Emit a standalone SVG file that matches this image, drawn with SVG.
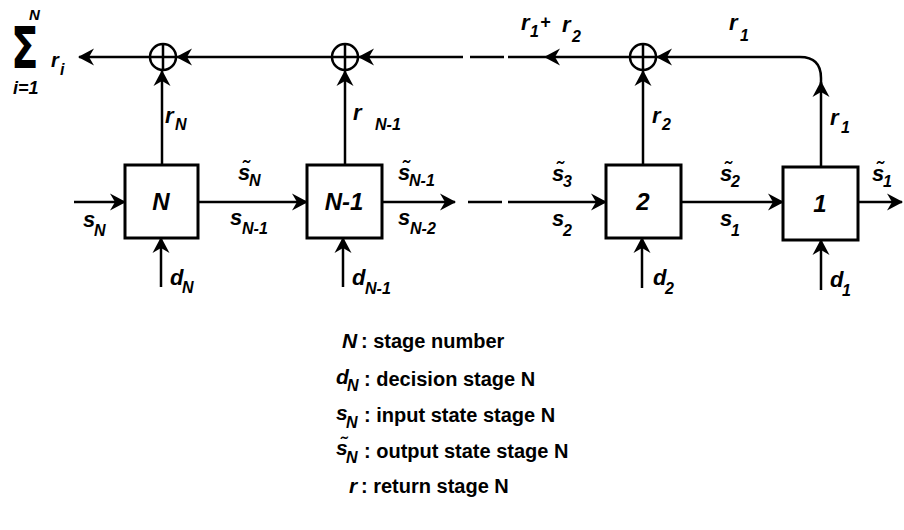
<svg xmlns="http://www.w3.org/2000/svg" width="904" height="530" viewBox="0 0 904 530">
<style>
.ln{stroke:#000;stroke-width:2.5;fill:none}
.ar{marker-end:url(#ah)}
.box{fill:#fff;stroke:#000;stroke-width:3}
.sum{fill:#fff;stroke:#000;stroke-width:2.5}
text{font-family:"Liberation Sans",Arial,sans-serif;fill:#000}
.lb{font-size:22px;font-style:italic;font-weight:bold}
.bx{font-size:24px;font-style:italic;font-weight:bold;text-anchor:middle}
.sb{font-size:16px}
.lg{font-size:20px;font-weight:bold}
.lgi{font-size:21px;font-weight:bold;font-style:italic}
.sig{font-family:"DejaVu Sans",sans-serif;font-size:56px;font-weight:bold}
</style>
<defs>
<marker id="ah" viewBox="0 0 16 18" refX="15" refY="9" markerWidth="16" markerHeight="18" markerUnits="userSpaceOnUse" orient="auto">
<path d="M0,0.5 L16,9 L0,17.5 L5,9 z" fill="#000"/>
</marker>
</defs>

<g id="connectors">
<line class="ln ar" x1="150" y1="57" x2="79" y2="57"/>
<line class="ln ar" x1="332" y1="57" x2="177" y2="57"/>
<line class="ln" x1="463" y1="57" x2="420" y2="57"/>
<line class="ln ar" x1="420" y1="57" x2="359" y2="57"/>
<line class="ln" x1="470" y1="57" x2="504" y2="57"/>
<line class="ln ar" x1="630" y1="57" x2="545" y2="57"/>
<line class="ln" x1="545" y1="57" x2="508" y2="57"/>
<path class="ln ar" d="M821,84 L821,78 Q821,57 800,57 L657,57"/>
<line class="ln ar" x1="821" y1="167" x2="821" y2="82"/>
<line class="ln ar" x1="162" y1="165" x2="162" y2="71"/>
<line class="ln ar" x1="345" y1="165" x2="345" y2="71"/>
<line class="ln ar" x1="643" y1="165" x2="643" y2="71"/>
<line class="ln ar" x1="74" y1="202" x2="125" y2="202"/>
<line class="ln ar" x1="198" y1="202" x2="307" y2="202"/>
<line class="ln ar" x1="382" y1="202" x2="455" y2="202"/>
<line class="ln" x1="468" y1="202" x2="502" y2="202"/>
<line class="ln ar" x1="508" y1="202" x2="606" y2="202"/>
<line class="ln ar" x1="681" y1="202" x2="783" y2="202"/>
<line class="ln ar" x1="858" y1="202" x2="902" y2="202"/>
<line class="ln ar" x1="161" y1="287" x2="161" y2="238"/>
<line class="ln ar" x1="343" y1="287" x2="343" y2="238"/>
<line class="ln ar" x1="642" y1="288" x2="642" y2="238"/>
<line class="ln ar" x1="821" y1="290" x2="821" y2="240"/>
</g>

<g id="sum1"><circle class="sum" cx="163" cy="57" r="13"/><path class="ln" d="M150,57 H176 M163,44 V70"/></g>
<g id="sum2"><circle class="sum" cx="345" cy="57" r="13"/><path class="ln" d="M332,57 H358 M345,44 V70"/></g>
<g id="sum3"><circle class="sum" cx="643" cy="57" r="13"/><path class="ln" d="M630,57 H656 M643,44 V70"/></g>

<g id="stageN"><rect class="box" x="125" y="165" width="73" height="73"/><text class="bx" x="161" y="210">N</text></g>
<g id="stageN-1"><rect class="box" x="307" y="165" width="75" height="73"/><text class="bx" x="344" y="210">N-1</text></g>
<g id="stage2"><rect class="box" x="606" y="165" width="75" height="73"/><text class="bx" x="643" y="210">2</text></g>
<g id="stage1"><rect class="box" x="783" y="167" width="75" height="73"/><text class="bx" x="820" y="212">1</text></g>

<g id="total">
<text class="sig" x="0" y="0" transform="translate(11,68) scale(0.72,1)">Σ</text>
<text x="29" y="20" style="font-size:15px;font-weight:bold;font-style:italic">N</text>
<text x="13" y="94" style="font-size:18px;font-weight:bold;font-style:italic">i=1</text>
<text class="lb" x="51" y="67" style="font-size:20px">r<tspan class="sb" x="60" y="75">i</tspan></text>
</g>

<g id="labels">
<text class="lb" x="165" y="123">r<tspan class="sb" x="175" y="130">N</tspan></text>
<text class="lb" x="353" y="120">r<tspan class="sb" x="375" y="130">N-1</tspan></text>
<text class="lb" x="652" y="123">r<tspan class="sb" x="662" y="130">2</tspan></text>
<text class="lb" x="830" y="125">r<tspan class="sb" x="841" y="133">1</tspan></text>
<text class="lb" x="521" y="30">r<tspan class="sb" x="530" y="37">1</tspan><tspan x="540" y="28" style="font-size:18px">+</tspan><tspan x="562" y="32">r</tspan><tspan class="sb" x="572" y="42">2</tspan></text>
<text class="lb" x="729" y="30">r<tspan class="sb" x="740" y="41">1</tspan></text>

<text class="lb" x="83" y="227">s<tspan class="sb" x="94" y="236">N</tspan></text>
<text class="lb" x="238" y="180">s̃<tspan class="sb" x="249" y="186">N</tspan></text>
<text class="lb" x="230" y="225">s<tspan class="sb" x="242" y="234">N-1</tspan></text>
<text class="lb" x="398" y="180">s̃<tspan class="sb" x="409" y="186">N-1</tspan></text>
<text class="lb" x="398" y="225">s<tspan class="sb" x="410" y="234">N-2</tspan></text>
<text class="lb" x="552" y="181">s̃<tspan class="sb" x="563" y="187">3</tspan></text>
<text class="lb" x="552" y="226">s<tspan class="sb" x="563" y="236">2</tspan></text>
<text class="lb" x="720" y="181">s̃<tspan class="sb" x="731" y="187">2</tspan></text>
<text class="lb" x="720" y="226">s<tspan class="sb" x="731" y="236">1</tspan></text>
<text class="lb" x="872" y="181">s̃<tspan class="sb" x="883" y="187">1</tspan></text>

<text class="lb" x="170" y="285">d<tspan class="sb" x="182" y="293">N</tspan></text>
<text class="lb" x="352" y="285">d<tspan class="sb" x="365" y="294">N-1</tspan></text>
<text class="lb" x="653" y="285">d<tspan class="sb" x="665" y="294">2</tspan></text>
<text class="lb" x="830" y="287">d<tspan class="sb" x="842" y="296">1</tspan></text>
</g>

<g id="legend">
<text class="lgi" x="342" y="348">N</text>
<text class="lg" x="361" y="348">: stage number</text>
<text class="lgi" x="336" y="384">d<tspan class="sb" x="347" y="391">N</tspan></text>
<text class="lg" x="364" y="386">: decision stage N</text>
<text class="lgi" x="336" y="420">s<tspan class="sb" x="346" y="428">N</tspan></text>
<text class="lg" x="364" y="422">: input state stage N</text>
<text class="lgi" x="336" y="455">s̃<tspan class="sb" x="346" y="463">N</tspan></text>
<text class="lg" x="364" y="458">: output state stage N</text>
<text class="lgi" x="349" y="493">r</text>
<text class="lg" x="361" y="493">: return stage N</text>
</g>
</svg>
